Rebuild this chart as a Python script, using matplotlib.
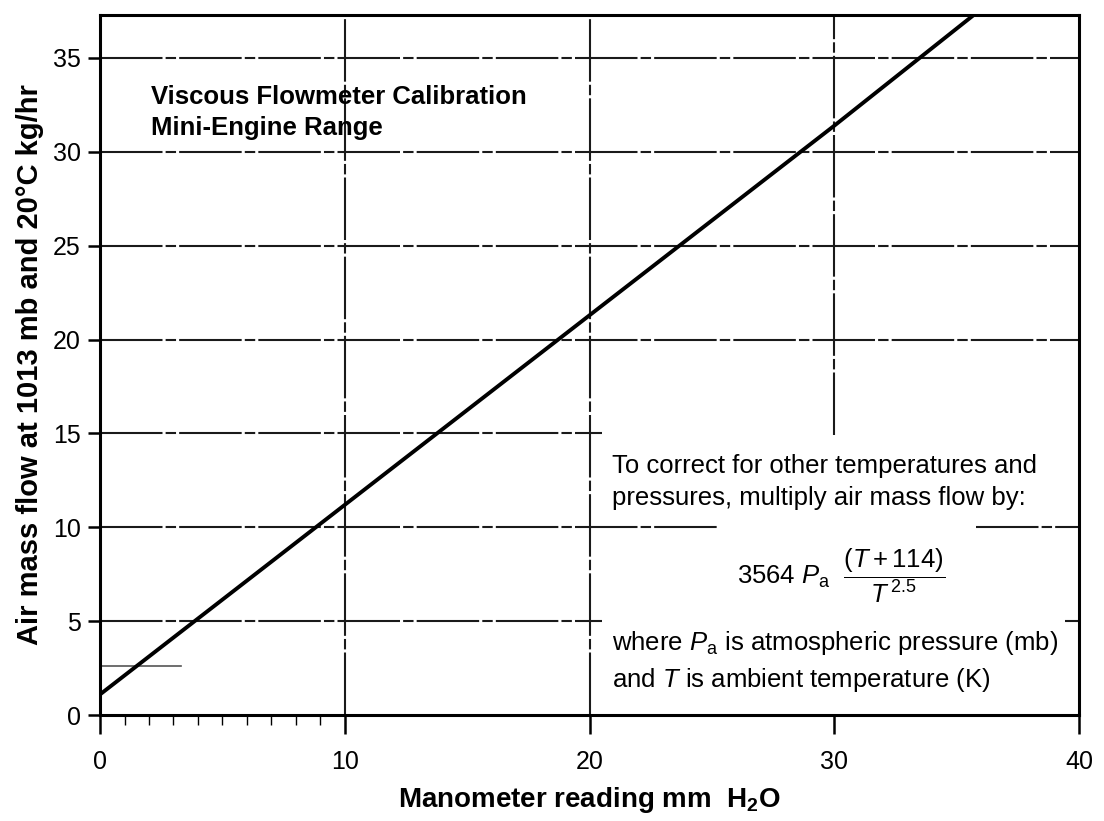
import numpy as np
import matplotlib
matplotlib.use("Agg")
from matplotlib import pyplot as plt
from matplotlib.ticker import FixedLocator

plt.rcParams['font.family'] = ['Liberation Sans', 'DejaVu Sans']
plt.rcParams['mathtext.fontset'] = 'custom'
plt.rcParams['mathtext.rm'] = 'Liberation Sans'
plt.rcParams['mathtext.it'] = 'Liberation Sans:italic'
plt.rcParams['mathtext.bf'] = 'Liberation Sans:bold'

# calibration line
reading = [0, 10, 20, 30, 35.7]
flow = [1.1, 11.2, 21.3, 31.4, 37.3]

x_ticks = [0, 10, 20, 30, 40]
y_ticks = [0, 5, 10, 15, 20, 25, 30, 35]
x_minor = [1, 2, 3, 4, 5, 6, 7, 8, 9]

# grid segments (the printed grid is interrupted around the note)
h_grid = [(35, 0, 40), (30, 0, 40), (25, 0, 40), (20, 0, 40),
          (15, 0, 20.5), (10, 0, 25.3), (10, 35.8, 40),
          (5, 0, 20.5), (5, 39.4, 40)]
v_grid = [(10, 0, 37.3), (20, 0, 37.3), (30, 14.9, 37.3)]
stub = (2.6, 0, 3.3)

fig = plt.figure(figsize=(11.04, 8.21), dpi=100)
ax = fig.add_axes([0.0906, 0.129, 0.887, 0.853])

grid_ls = (0, (30, 1.5, 5, 1.5))
for y, x0, x1 in h_grid:
    ax.plot([x0, x1], [y, y], color='#1a1a1a', lw=1.5, ls=grid_ls, zorder=1)
for x, y0, y1 in v_grid:
    ax.plot([x, x], [y0, y1], color='#1a1a1a', lw=1.5, ls=grid_ls, zorder=1)
ax.plot([stub[1], stub[2]], [stub[0], stub[0]], color='#555555', lw=1.2, zorder=1)

ax.plot(reading, flow, color='black', lw=2.8, zorder=3, solid_capstyle='butt')

ax.set_xlim(0, 40)
ax.set_ylim(0, 37.3)
ax.set_xticks(x_ticks)
ax.set_yticks(y_ticks)
ax.xaxis.set_minor_locator(FixedLocator(x_minor))
ax.tick_params(axis='x', which='major', length=14, width=1.8, labelsize=18, pad=11, color='black')
ax.tick_params(axis='x', which='minor', length=7, width=1.0)
ax.tick_params(axis='y', which='major', length=9, width=1.8, labelsize=18, pad=5)
for s in ax.spines.values():
    s.set_linewidth(2.2)

ax.set_xlabel(r"Manometer reading mm  H$_{\mathbf{2}}$O", fontsize=20, fontweight='bold', labelpad=8)
ax.set_ylabel("Air mass flow at 1013 mb and 20°C kg/hr", fontsize=21, fontweight='bold', labelpad=6)

ax.text(2.1, 32.1, "Viscous Flowmeter Calibration\nMini-Engine Range", fontsize=18.5,
        fontweight='bold', va='center', ha='left', linespacing=1.35, zorder=4)

ax.text(20.9, 12.4, "To correct for other temperatures and\npressures, multiply air mass flow by:",
        fontsize=18.5, va='center', ha='left', linespacing=1.4, zorder=4)
ax.text(26.0, 7.4, r"$3564\ P_\mathrm{a}\ \ \dfrac{(T+114)}{T^{\,2.5}}$",
        fontsize=18.5, va='center', ha='left', zorder=4)
ax.text(20.9, 2.85, "where $P_\\mathrm{a}$ is atmospheric pressure (mb)\nand $T$ is ambient temperature (K)",
        fontsize=18.5, va='center', ha='left', linespacing=1.4, zorder=4)

fig.savefig("out.png", dpi=100)
